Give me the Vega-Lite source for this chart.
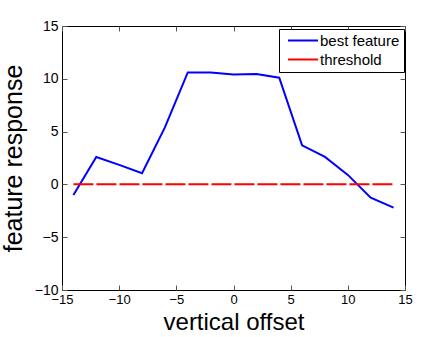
{
  "$schema": "https://vega.github.io/schema/vega-lite/v6.json",
  "width": 343,
  "height": 264,
  "autosize": {"type": "none"},
  "padding": {"left": 62, "top": 26, "right": 43, "bottom": 47},
  "background": "white",
  "config": {
    "font": "Liberation Sans",
    "view": {"stroke": "black", "strokeWidth": 1},
    "axis": {
      "grid": false,
      "domain": false,
      "tickSize": -5,
      "tickColor": "#555555",
      "labelFont": "Liberation Sans",
      "labelFontSize": 14,
      "labelColor": "black",
      "titleFont": "Liberation Sans",
      "titleFontSize": 25,
      "titleFontWeight": "normal",
      "titleColor": "black"
    }
  },
  "datasets": {
    "series": [
      {"offset": -14, "response": -1.0, "series": "best feature"},
      {"offset": -12, "response": 2.6, "series": "best feature"},
      {"offset": -10, "response": 1.85, "series": "best feature"},
      {"offset": -8, "response": 1.05, "series": "best feature"},
      {"offset": -6, "response": 5.4, "series": "best feature"},
      {"offset": -4, "response": 10.6, "series": "best feature"},
      {"offset": -2, "response": 10.6, "series": "best feature"},
      {"offset": 0, "response": 10.4, "series": "best feature"},
      {"offset": 2, "response": 10.45, "series": "best feature"},
      {"offset": 4, "response": 10.1, "series": "best feature"},
      {"offset": 6, "response": 3.7, "series": "best feature"},
      {"offset": 8, "response": 2.6, "series": "best feature"},
      {"offset": 10, "response": 0.9, "series": "best feature"},
      {"offset": 12, "response": -1.25, "series": "best feature"},
      {"offset": 14, "response": -2.2, "series": "best feature"}
    ],
    "thresh": [
      {"offset": -14, "response": 0.02, "series": "threshold"},
      {"offset": 14, "response": 0.02, "series": "threshold"}
    ]
  },
  "layer": [
    {
      "data": {"name": "series"},
      "mark": {"type": "line", "strokeWidth": 2, "clip": true},
      "encoding": {
        "x": {"field": "offset", "type": "quantitative",
          "scale": {"domain": [-15, 15], "nice": false, "zero": false},
          "axis": {"orient": "bottom", "values": [-15, -10, -5, 0, 5, 10, 15], "labelPadding": 8, "labelFontSize": 13, "title": "vertical offset", "titleFontSize": 24, "titlePadding": 4, "labelExpr": "replace(datum.label, '-', '−')", "labelFlush": false}},
        "y": {"field": "response", "type": "quantitative",
          "scale": {"domain": [-10, 15], "nice": false, "zero": false},
          "axis": {"orient": "left", "values": [-10, -5, 0, 5, 10, 15], "labelPadding": 9, "title": "feature response", "titlePadding": 8, "labelExpr": "replace(datum.label, '-', '−')"}},
        "color": {"field": "series", "type": "nominal",
          "scale": {"domain": ["best feature", "threshold"], "range": ["#0000ff", "#ff0000"]},
          "legend": {
            "title": null,
            "orient": "none",
            "legendX": 217,
            "legendY": 3,
            "strokeColor": "black",
            "fillColor": "white",
            "padding": 4,
            "symbolType": "M-1,0H11",
            "symbolSize": 25,
            "symbolStrokeWidth": 2,
            "labelFontSize": 15,
            "labelFont": "Liberation Sans",
            "labelColor": "black",
            "rowPadding": 3,
            "labelOffset": 22
          }}
      }
    },
    {
      "data": {"name": "thresh"},
      "mark": {"type": "line", "strokeWidth": 2, "strokeDash": [20, 3], "color": "#ff0000"},
      "encoding": {
        "x": {"field": "offset", "type": "quantitative",
          "axis": {"orient": "top", "values": [-15, -10, -5, 0, 5, 10, 15], "labels": false, "title": null}},
        "y": {"field": "response", "type": "quantitative",
          "axis": {"orient": "right", "values": [-10, -5, 0, 5, 10, 15], "labels": false, "title": null}}
      }
    }
  ],
  "resolve": {"axis": {"x": "independent", "y": "independent"}}
}
